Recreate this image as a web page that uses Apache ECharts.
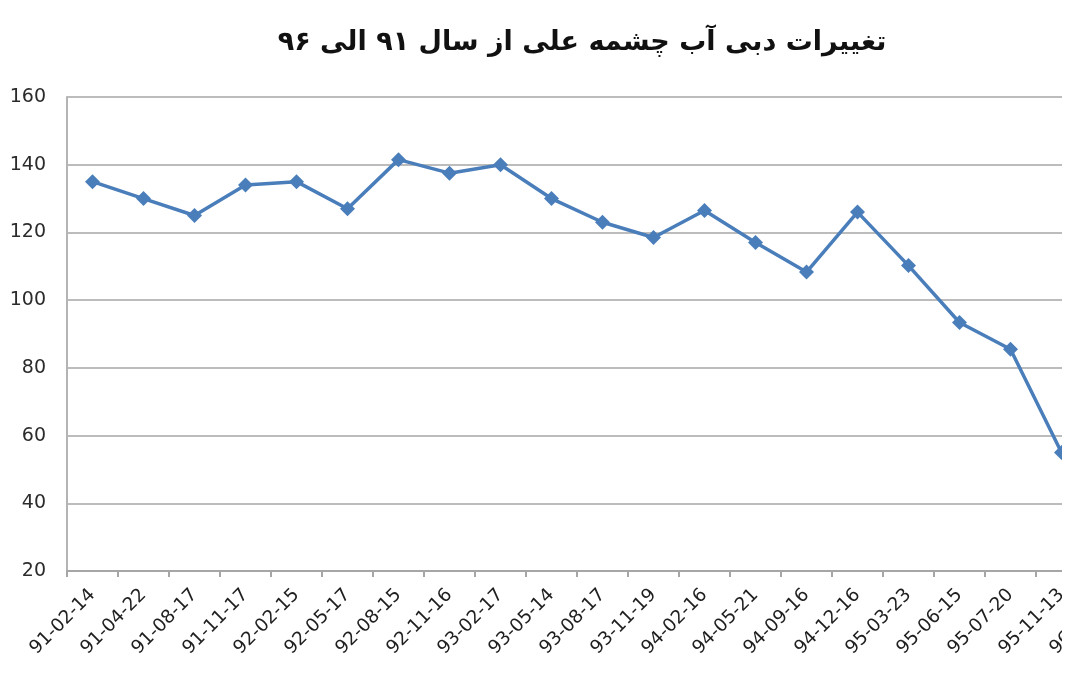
<!DOCTYPE html>
<html>
<head>
<meta charset="utf-8">
<script src="https://cdn.jsdelivr.net/npm/echarts@6/dist/echarts.min.js"></script>
<style>
  html, body { margin: 0; padding: 0; background: #ffffff; }
  #wrap { width: 1062px; height: 675px; overflow: hidden; position: relative; background: #fff; }
  #chart { width: 1138px; height: 675px; }
</style>
</head>
<body>
<div id="wrap"><div id="chart"></div></div>
<script>
const titleText = 'تغییرات دبی آب چشمه علی از سال ۹۱ الی ۹۶';
const categories = [
  '91-02-14', '91-04-22', '91-08-17', '91-11-17', '92-02-15', '92-05-17', '92-08-15',
  '92-11-16', '93-02-17', '93-05-14', '93-08-17', '93-11-19', '94-02-16', '94-05-21',
  '94-09-16', '94-12-16', '95-03-23', '95-06-15', '95-07-20', '95-11-13', '96-02-15'
];
const discharge = [
  135, 130, 125, 134, 135, 127, 141.5,
  137.5, 140, 130, 123, 118.5, 126.5, 117,
  108.3, 126, 110.2, 93.4, 85.5, 55, null
];
const yTicks = { min: 20, max: 160, interval: 20 };

const chart = echarts.init(document.getElementById('chart'));
chart.setOption({
  backgroundColor: '#ffffff',
  animation: false,
  title: {
    text: titleText,
    left: 577,
    top: 24,
    textAlign: 'center',
    textStyle: { fontFamily: 'DejaVu Sans', fontWeight: 'bold', fontSize: 27, color: '#111111' }
  },
  grid: { left: 67, right: 0, top: 97, bottom: 104, containLabel: false },
  xAxis: {
    type: 'category',
    data: categories,
    boundaryGap: true,
    axisLine: { lineStyle: { color: '#a6a6a6', width: 2 } },
    axisTick: { show: true, length: 6, lineStyle: { color: '#a6a6a6', width: 2 } },
    axisLabel: { rotate: 45, interval: 0, margin: 21, fontFamily: 'DejaVu Sans', fontSize: 18.5, color: '#1f1f1f' },
    splitLine: { show: false }
  },
  yAxis: {
    type: 'value',
    min: yTicks.min, max: yTicks.max, interval: yTicks.interval,
    axisLine: { show: true, lineStyle: { color: '#b4b4b4', width: 2 } },
    axisTick: { show: false },
    axisLabel: { margin: 21, fontFamily: 'DejaVu Sans', fontSize: 19, color: '#2b2b2b' },
    splitLine: { show: true, lineStyle: { color: '#bcbcbc', width: 2 } }
  },
  series: [{
    type: 'line',
    data: discharge,
    symbol: 'diamond',
    symbolSize: 15,
    connectNulls: false,
    lineStyle: { color: '#4a7ebb', width: 3.5 },
    itemStyle: { color: '#4a7ebb' }
  }]
});
</script>
</body>
</html>
